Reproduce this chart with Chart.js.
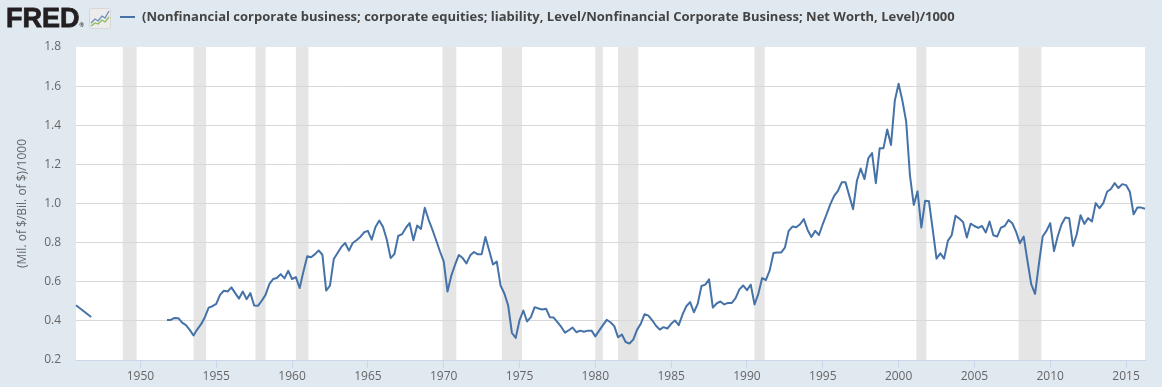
<!DOCTYPE html>
<html>
<head>
<meta charset="utf-8">
<script src="https://cdn.jsdelivr.net/npm/chart.js@4"></script>
<style>
  body { margin: 0; background: #e1e9f0; }
  #wrap { position: relative; width: 1162px; height: 387px; }
  #logo { position: absolute; left: 6px; top: 3px; font: bold 27px "Liberation Sans", Arial, sans-serif; color: #231f20; -webkit-text-stroke: 0.8px #231f20; letter-spacing: 0px; }
  #logo sup { font-size: 6px; vertical-align: baseline; -webkit-text-stroke: 0; }
  #icon { position: absolute; left: 89px; top: 8px; }
  #swatch { position: absolute; left: 120px; top: 16px; width: 15px; height: 2px; background: #4572a7; }
  #title { position: absolute; left: 142px; top: 7px; font: bold 13px "Open Sans", sans-serif; color: #444; white-space: nowrap; }
</style>
</head>
<body>
<div id="wrap">
  <canvas id="myChart"></canvas>
  <div id="logo">FRED<sup>®</sup></div>
  <svg id="icon" width="22" height="21" viewBox="0 0 22 21">
    <rect x="0.5" y="0.5" width="21" height="20" rx="2" fill="#ececec" stroke="#d6d6d6"/>
    <polyline points="2,15 6,11 9,13 13,8 16,10 20,3" fill="none" stroke="#6a8fb8" stroke-width="1.3"/>
    <polyline points="2,18 6,15 9,16 13,12 16,14 20,9" fill="none" stroke="#8dbb5a" stroke-width="1.3"/>
  </svg>
  <div id="swatch"></div>
  <div id="title">(Nonfinancial corporate business; corporate equities; liability, Level/Nonfinancial Corporate Business; Net Worth, Level)/1000</div>
</div>
<script>
// quarterly observations, 1945-10-01 .. 2016-04-01
var firstYear = 1945.75;
var quarterCount = 283;
var quarters = [];
for (var i = 0; i < quarterCount; i++) {
  var t = firstYear + i / 4;
  var y = Math.floor(t);
  var m = Math.round((t - y) * 12) + 1;
  quarters.push(y + '-' + (m < 10 ? '0' + m : m) + '-01');
}

// early annual readings (1945-10-01 and 1946-10-01)
var ratioEarly = [0.48, null, null, null, 0.42];

// quarterly ratio from 1951-10-01 on (null where no observation)
var ratio = [
  null, null, null, null, null,
  null, null, null, null, null, null, null, null, null, null,
  null, null, null, null, null, null, null, null, null,
  0.405, 0.405, 0.415, 0.414, 0.391, 0.378, 0.354, 0.325, 0.357, 0.383,
  0.419, 0.468, 0.475, 0.487, 0.533, 0.554, 0.55, 0.571, 0.542, 0.514,
  0.55, 0.511, 0.542, 0.479, 0.477, 0.503, 0.533, 0.588, 0.614, 0.619,
  0.639, 0.617, 0.656, 0.614, 0.624, 0.568, 0.653, 0.73, 0.725, 0.74,
  0.76, 0.738, 0.555, 0.58, 0.716, 0.747, 0.778, 0.798, 0.759, 0.798,
  0.812, 0.829, 0.853, 0.86, 0.815, 0.88, 0.913, 0.88, 0.815, 0.721,
  0.742, 0.834, 0.843, 0.875, 0.9, 0.812, 0.887, 0.87, 0.978, 0.918,
  0.867, 0.812, 0.756, 0.704, 0.55, 0.631, 0.687, 0.737, 0.721, 0.694,
  0.735, 0.752, 0.74, 0.74, 0.829, 0.76, 0.688, 0.703, 0.581, 0.54,
  0.479, 0.338, 0.313, 0.403, 0.453, 0.397, 0.419, 0.47, 0.463, 0.458,
  0.462, 0.419, 0.417, 0.393, 0.369, 0.34, 0.352, 0.366, 0.342, 0.35,
  0.344, 0.35, 0.35, 0.321, 0.35, 0.378, 0.405, 0.393, 0.373, 0.316,
  0.33, 0.292, 0.284, 0.304, 0.354, 0.386, 0.434, 0.427, 0.403, 0.375,
  0.355, 0.368, 0.361, 0.385, 0.402, 0.378, 0.432, 0.475, 0.496, 0.444,
  0.487, 0.578, 0.585, 0.612, 0.468, 0.489, 0.499, 0.484, 0.492, 0.492,
  0.516, 0.561, 0.581, 0.557, 0.585, 0.484, 0.538, 0.619, 0.609, 0.658,
  0.747, 0.75, 0.749, 0.774, 0.86, 0.882, 0.879, 0.894, 0.92, 0.865,
  0.829, 0.86, 0.839, 0.895, 0.945, 0.997, 1.039, 1.065, 1.108, 1.108,
  1.039, 0.971, 1.116, 1.179, 1.125, 1.231, 1.258, 1.104, 1.282, 1.282,
  1.378, 1.299, 1.526, 1.612, 1.526, 1.419, 1.142, 0.993, 1.062, 0.877,
  1.014, 1.012, 0.868, 0.718, 0.745, 0.718, 0.809, 0.838, 0.937, 0.923,
  0.906, 0.826, 0.897, 0.885, 0.875, 0.885, 0.852, 0.908, 0.838, 0.831,
  0.877, 0.885, 0.916, 0.899, 0.855, 0.797, 0.831, 0.706, 0.586, 0.538,
  0.689, 0.831, 0.86, 0.899, 0.757, 0.834, 0.894, 0.928, 0.925, 0.783,
  0.843, 0.94, 0.896, 0.925, 0.908, 1.002, 0.976, 1.002, 1.06, 1.074,
  1.104, 1.079, 1.099, 1.094, 1.06, 0.945, 0.979, 0.979, 0.973
];

// labelled years on the x axis
var tickYears = [1950, 1955, 1960, 1965, 1970, 1975, 1980, 1985, 1990, 1995, 2000, 2005, 2010, 2015];

// recessions, as [start, end] in decimal years
var recessions = [
  [1948.833, 1949.75], [1953.5, 1954.333], [1957.583, 1958.25], [1960.25, 1961.083],
  [1969.917, 1970.833], [1973.833, 1975.167], [1980.0, 1980.5], [1981.5, 1982.833],
  [1990.5, 1991.167], [2001.167, 2001.833], [2007.917, 2009.417]
];

// white plot area + grey recession bars, under the grid
var plotBackground = {
  id: 'plotBackground',
  beforeDraw: function (chart) {
    var ctx = chart.ctx, area = chart.chartArea, xs = chart.scales.x;
    ctx.save();
    ctx.fillStyle = '#ffffff';
    ctx.fillRect(area.left, area.top, area.right - area.left, area.bottom - area.top);
    ctx.fillStyle = '#e5e5e5';
    recessions.forEach(function (r) {
      var x0 = xs.getPixelForValue((r[0] - firstYear) * 4);
      var x1 = xs.getPixelForValue((r[1] - firstYear) * 4);
      ctx.fillRect(x0, area.top, x1 - x0, area.bottom - area.top);
    });
    ctx.restore();
  }
};

var lineStyle = {
  borderColor: '#4572a7',
  backgroundColor: '#4572a7',
  borderWidth: 2,
  borderJoinStyle: 'round',
  pointRadius: 0,
  tension: 0
};

var ctx = document.getElementById('myChart').getContext('2d');
var chart = new Chart(ctx, {
  type: 'line',
  data: {
    labels: quarters,
    datasets: [
      Object.assign({ label: 'early', data: ratioEarly, spanGaps: true }, lineStyle),
      Object.assign({ label: 'ratio', data: ratio, spanGaps: false }, lineStyle)
    ]
  },
  options: {
    responsive: true,
    maintainAspectRatio: false,
    animation: false,
    layout: { padding: { top: 47, right: 17, left: 0, bottom: 0 } },
    plugins: { legend: { display: false }, tooltip: { enabled: false } },
    scales: {
      x: {
        offset: false,
        afterBuildTicks: function (scale) {
          scale.ticks = scale.ticks.filter(function (tk) {
            return tickYears.indexOf(+quarters[tk.value].slice(0, 4)) >= 0 && quarters[tk.value].slice(5) === '01-01';
          });
        },
        afterFit: function (scale) { scale.height = 27; },
        ticks: {
          autoSkip: false,
          maxRotation: 0,
          padding: 1,
          color: '#666',
          font: { family: 'Open Sans', size: 12 },
          callback: function (v) { return quarters[v].slice(0, 4); }
        },
        grid: { drawOnChartArea: false, drawTicks: true, tickLength: 8, color: '#ccd6eb' },
        border: { color: '#ccd6eb', width: 1 }
      },
      y: {
        min: 0.2,
        max: 1.8,
        afterFit: function (scale) { scale.width = 76; },
        ticks: {
          stepSize: 0.2,
          padding: 15,
          color: '#666',
          font: { family: 'Open Sans', size: 12 },
          callback: function (v) { return v.toFixed(1); }
        },
        grid: {
          drawTicks: false,
          color: function (c) { return c.tick.value > 1.79 || c.tick.value < 0.21 ? 'rgba(0,0,0,0)' : '#d8d8d8'; }
        },
        border: { display: false },
        title: {
          display: true,
          text: '(Mil. of $/Bil. of $)/1000',
          color: '#666',
          font: { family: 'Open Sans', size: 12 },
          padding: { top: 15, bottom: 0 }
        }
      }
    }
  },
  plugins: [plotBackground]
});
</script>
</body>
</html>
